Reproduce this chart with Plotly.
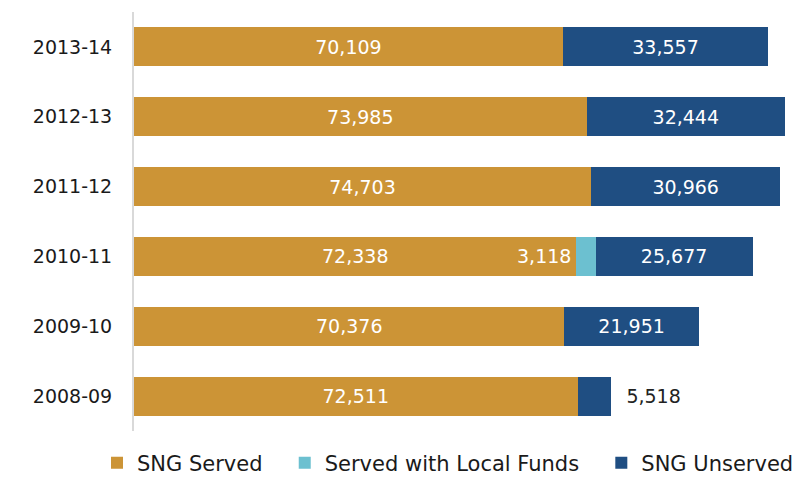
import plotly.graph_objects as go

years = ["2008-09", "2009-10", "2010-11", "2011-12", "2012-13", "2013-14"]
sng_served = [72511, 70376, 72338, 74703, 73985, 70109]
local_funds = [0, 0, 3118, 0, 0, 0]
sng_unserved = [5518, 21951, 25677, 30966, 32444, 33557]
series_names = ["SNG Served", "Served with Local Funds", "SNG Unserved"]

GOLD = "#CC9436"
LIGHT = "#6CC0D0"
DARK = "#1F4E82"
FONT = "DejaVu Sans, sans-serif"
PAD = "\u2002\u00a0"   # extra spacing after legend entries

fig = go.Figure()
fig.add_trace(go.Bar(
    y=years, x=sng_served, name=series_names[0] + PAD, orientation="h",
    marker=dict(color=GOLD, line=dict(width=0)),
    text=[f"{v:,}" for v in sng_served], textposition="inside",
    insidetextanchor="middle", textangle=0,
    insidetextfont=dict(color="white", size=19, family=FONT),
))
fig.add_trace(go.Bar(
    y=years, x=local_funds, name=series_names[1] + PAD, orientation="h",
    marker=dict(color=LIGHT, line=dict(width=0)),
))
un_pos = ["outside" if v < 8000 else "inside" for v in sng_unserved]
un_txt = [("\u00a0\u00a0" if p == "outside" else "") + f"{v:,}"
          for v, p in zip(sng_unserved, un_pos)]
fig.add_trace(go.Bar(
    y=years, x=sng_unserved, name=series_names[2], orientation="h",
    marker=dict(color=DARK, line=dict(width=0)),
    text=un_txt, textposition=un_pos,
    insidetextanchor="middle", textangle=0, cliponaxis=False,
    insidetextfont=dict(color="white", size=19, family=FONT),
    outsidetextfont=dict(color="#222222", size=19, family=FONT),
))

for y, s, l in zip(years, sng_served, local_funds):
    if l:
        fig.add_annotation(x=s, y=y, text=f"{l:,}", showarrow=False,
                           xanchor="right", xshift=-3,
                           font=dict(color="white", size=19, family=FONT))

fig.update_layout(
    width=799, height=487, barmode="stack", bargap=0.44,
    margin=dict(l=134, r=5, t=12, b=55),
    plot_bgcolor="white", paper_bgcolor="white",
    font=dict(family=FONT, color="#222222"),
    xaxis=dict(range=[0, 107900], showgrid=False, showticklabels=False,
               zeroline=False, showline=False, automargin=False),
    yaxis=dict(type="category", categoryorder="array", categoryarray=years,
               showline=True, linecolor="#D9D9D9", linewidth=2,
               showgrid=False, ticks="", ticklabelstandoff=16, automargin=False,
               tickfont=dict(size=19, color="#1a1a1a", family=FONT)),
    legend=dict(orientation="h", x=-0.035, xanchor="left",
                y=-(463 - 432) / 420, yanchor="middle",
                font=dict(size=21, color="#1a1a1a", family=FONT),
                itemwidth=30, traceorder="normal"),
    showlegend=True,
)
fig.write_html("out.html", config={"displayModeBar": False},
               post_script="document.body.style.margin='0';document.body.style.overflow='hidden';")
